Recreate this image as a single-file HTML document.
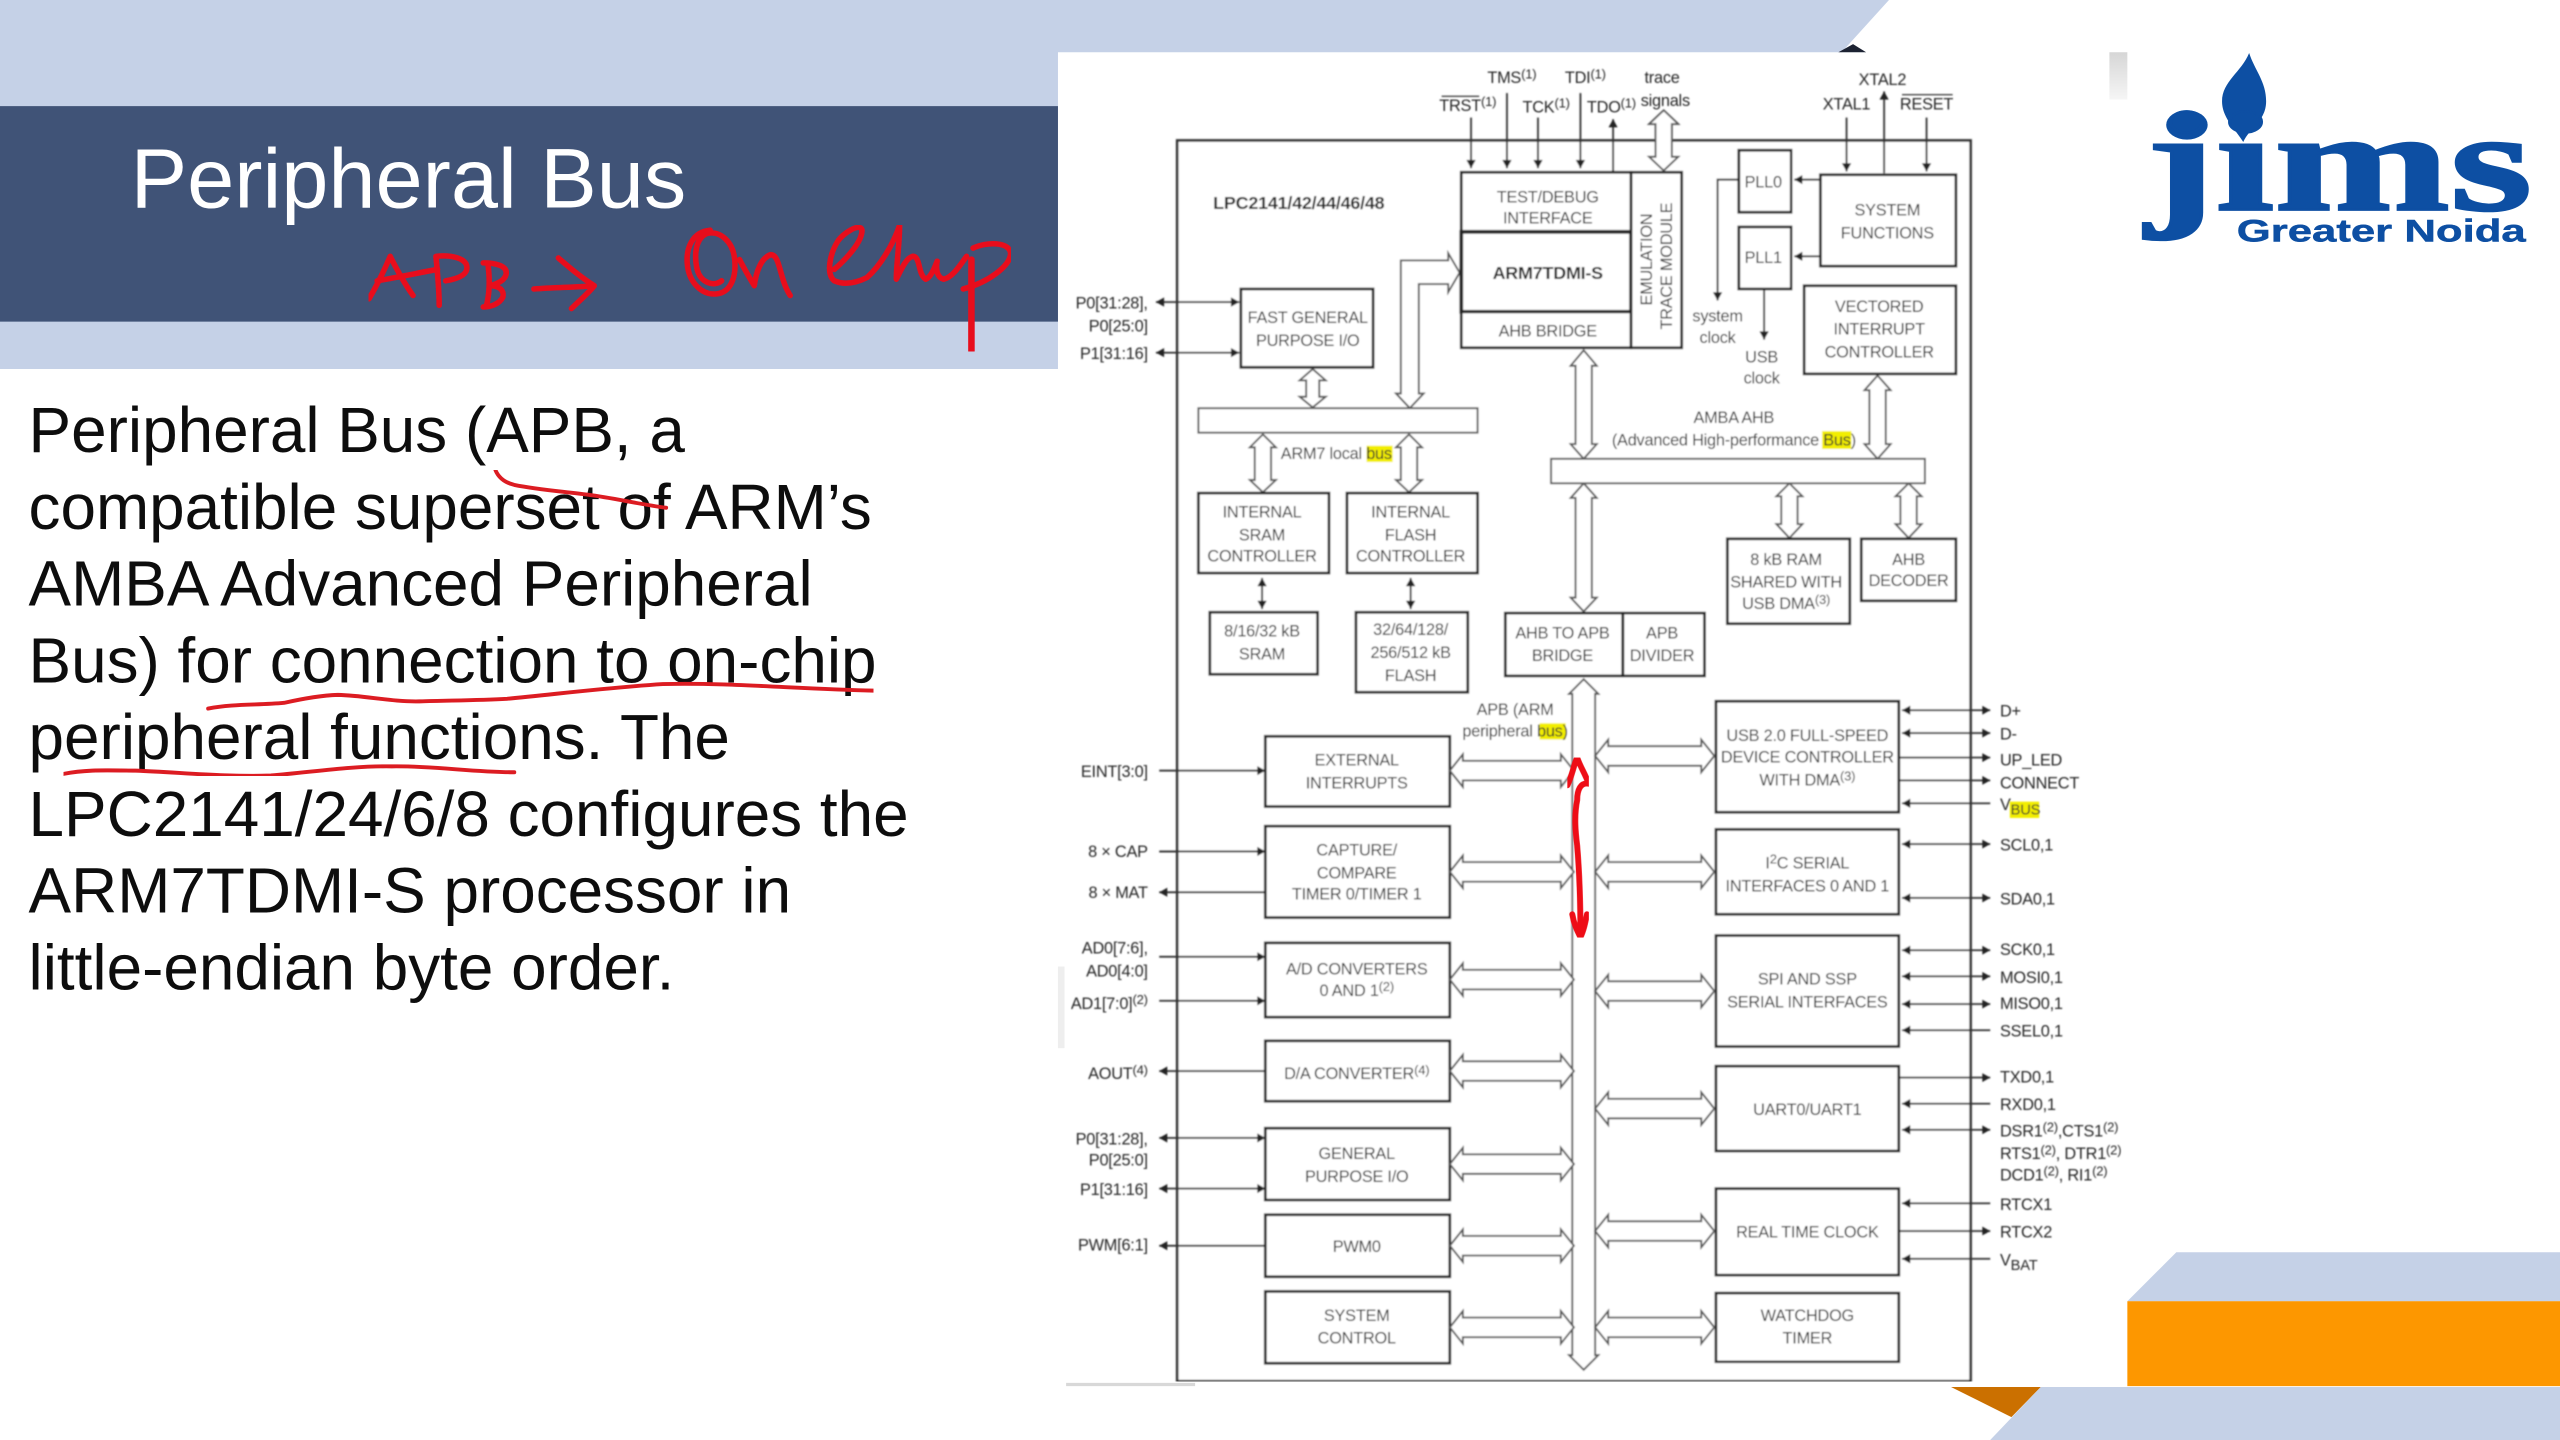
<!DOCTYPE html>
<html><head><meta charset="utf-8"><title>Peripheral Bus</title>
<style>html,body{margin:0;padding:0;background:#fff;width:2560px;height:1440px;overflow:hidden}svg{display:block}
.d{font-family:"Liberation Sans",sans-serif;font-size:10px;fill:#262626;text-anchor:middle;letter-spacing:-0.14px}
.l{text-anchor:end}.r{text-anchor:start}
.b{fill:#fff;stroke:#222;stroke-width:1.6}
.w{fill:#fff;stroke:#555;stroke-width:1.1}
.s{stroke:#333;stroke-width:1.1;fill:none}
.t{font-family:"Liberation Sans",sans-serif;font-size:39.1px;fill:#0c0c0c}
.h{fill:none;stroke:#e8101c;stroke-width:3.4;stroke-linecap:round;stroke-linejoin:round}
.u{fill:none;stroke:#dc1a22;stroke-width:2.4;stroke-linecap:round;stroke-linejoin:round}
</style></head><body>
<svg xmlns="http://www.w3.org/2000/svg" width="2560" height="1440" viewBox="0 0 1568 882">
<defs>
<filter id="bl" x="0" y="0" width="1" height="1"><feGaussianBlur stdDeviation="0.42"/></filter>
<filter id="bs" x="0" y="0" width="1" height="1"><feGaussianBlur stdDeviation="0.22"/></filter>
<linearGradient id="gr" x1="0" y1="0" x2="0" y2="1"><stop offset="0" stop-color="#d6d6d6"/><stop offset="1" stop-color="#f6f6f6"/></linearGradient>
<marker id="e" markerUnits="userSpaceOnUse" markerWidth="6" markerHeight="6" refX="5" refY="3" orient="auto-start-reverse"><path d="M0 0.2L5 3L0 5.8Z" fill="#222"/></marker>
<path id="hl" d="M0 0L8 -10V-6H68V-10L76 0L68 10V6H8V10Z" fill="#fff" stroke="#555" stroke-width="1.1"/>
<path id="hr" d="M0 0L8 -10V-6H65V-10L73 0L65 10V6H8V10Z" fill="#fff" stroke="#555" stroke-width="1.1"/>
</defs>

<!-- slide background -->
<g filter="url(#bs)">
<path d="M0 0H1157L1128 32H648V226H0Z" fill="#c5d1e7"/>
<rect x="0" y="65" width="648" height="132" fill="#3f5277"/>
<path d="M1126 32L1135 27L1143 32Z" fill="#1d2233"/>
<text x="80" y="127" font-family="Liberation Sans" font-size="51.900" fill="#fff">Peripheral Bus</text>
<g class="t">
<text x="17.500" y="277">Peripheral Bus (APB, a</text>
<text x="17.500" y="324">compatible superset of ARM’s</text>
<text x="17.500" y="371">AMBA Advanced Peripheral</text>
<text x="17.500" y="418">Bus) for connection to on-chip</text>
<text x="17.500" y="465">peripheral functions. The</text>
<text x="17.500" y="512">LPC2141/24/6/8 configures the</text>
<text x="17.500" y="559">ARM7TDMI-S processor in</text>
<text x="17.500" y="606">little-endian byte order.</text>
</g>
<!-- lower right decoration -->
<path d="M1333 767H1568V797H1303Z" fill="#c5d1e7"/>
<rect x="1303" y="797" width="265" height="52" fill="#fd9700"/>
<path d="M1195 849.500H1250L1232 868Z" fill="#cb7000"/>
<path d="M1250 849.500H1568V882H1219Z" fill="#c5d1e7"/>
<!-- logo -->
<rect x="1292" y="32" width="11" height="29" fill="url(#gr)"/>
<path d="M1377.600 32.500C1381 43 1388 50 1388 62C1388 74 1378 78 1374 87C1369 79 1361 72 1361 62C1361 50 1373 44 1377.600 32.500Z" fill="#0a4fa3"/>
<ellipse cx="1339.500" cy="76.500" rx="12.700" ry="9" fill="#0a4fa3"/>
<text x="1314" y="128.500" font-family="Liberation Serif" font-weight="bold" font-size="87" fill="#0a4fa3" stroke="#0a4fa3" stroke-width="1.400" textLength="237" lengthAdjust="spacingAndGlyphs">jims</text>
<text x="1370" y="148" font-family="Liberation Sans" font-weight="bold" font-size="19.500" fill="#0a4fa3" stroke="#0a4fa3" stroke-width="0.300" textLength="177" lengthAdjust="spacingAndGlyphs">Greater Noida</text>
<!-- faint edges -->
<rect x="653" y="847" width="79" height="2" fill="#d8d8d8"/>
<rect x="648" y="592" width="4" height="50" fill="#eeeeee"/>
</g>

<!-- diagram -->
<g filter="url(#bl)">
<rect x="721" y="86" width="486" height="760" fill="#fff" stroke="#333" stroke-width="1.6"/>

<!-- top signals -->
<g class="s">
<path d="M901 72V103" marker-end="url(#e)"/><path d="M923 57V103" marker-end="url(#e)"/>
<path d="M942 72V103" marker-end="url(#e)"/><path d="M968 57V103" marker-end="url(#e)"/>
<path d="M988 105V73" marker-end="url(#e)"/>
<path d="M1131 72V105" marker-end="url(#e)"/><path d="M1154 106V56" marker-end="url(#e)"/><path d="M1180 72V105" marker-end="url(#e)"/>
<path d="M1115 110H1099" marker-end="url(#e)"/><path d="M1115 157H1099" marker-end="url(#e)"/>
<path d="M1065 110H1052V184" marker-end="url(#e)"/><path d="M1080.500 177V208" marker-end="url(#e)"/>
<path d="M708 185H759" marker-start="url(#e)" marker-end="url(#e)"/><path d="M708 216H759" marker-start="url(#e)" marker-end="url(#e)"/>
<path d="M773 354V373" marker-start="url(#e)" marker-end="url(#e)"/><path d="M864 354V373" marker-start="url(#e)" marker-end="url(#e)"/>
<!-- left IO -->
<path d="M710 472H775" marker-end="url(#e)"/><path d="M710 521.500H775" marker-end="url(#e)"/>
<path d="M775 546.500H710" marker-end="url(#e)"/><path d="M710 586H775" marker-end="url(#e)"/>
<path d="M710 613H775" marker-end="url(#e)"/><path d="M775 656H710" marker-end="url(#e)"/>
<path d="M710 697H775" marker-start="url(#e)" marker-end="url(#e)"/><path d="M710 728H775" marker-start="url(#e)" marker-end="url(#e)"/>
<path d="M775 763H710" marker-end="url(#e)"/>
<!-- right IO -->
<path d="M1165 435H1219" marker-start="url(#e)" marker-end="url(#e)"/><path d="M1165 449H1219" marker-start="url(#e)" marker-end="url(#e)"/>
<path d="M1163 464H1219" marker-end="url(#e)"/><path d="M1163 478H1219" marker-end="url(#e)"/>
<path d="M1219 492H1165" marker-end="url(#e)"/>
<path d="M1165 517H1219" marker-start="url(#e)" marker-end="url(#e)"/><path d="M1165 550H1219" marker-start="url(#e)" marker-end="url(#e)"/>
<path d="M1165 582H1219" marker-start="url(#e)" marker-end="url(#e)"/><path d="M1165 598H1219" marker-start="url(#e)" marker-end="url(#e)"/>
<path d="M1165 615H1219" marker-start="url(#e)" marker-end="url(#e)"/><path d="M1219 631H1165" marker-end="url(#e)"/>
<path d="M1163 660H1219" marker-end="url(#e)"/><path d="M1219 676H1165" marker-end="url(#e)"/>
<path d="M1165 692H1219" marker-start="url(#e)" marker-end="url(#e)"/>
<path d="M1219 737H1165" marker-end="url(#e)"/><path d="M1163 754H1219" marker-end="url(#e)"/><path d="M1219 771H1165" marker-end="url(#e)"/>
</g>

<!-- fat vertical arrows -->
<g class="w">
<path d="M1019 67.500L1028 76H1024V96H1028L1019 104.500L1010 96H1014V76H1010Z"/>
<path d="M804 226L812 233H808V243H812L804 249.500L796 243H800V233H796Z"/>
<path d="M970 214.500L978 224H975V272H978L970 281L962 272H965V224H962Z"/>
<path d="M970 296L978 305H975V366H978L970 374.500L962 366H965V305H962Z"/>
<path d="M1150 230L1158 239H1155V272H1158L1150 281L1142 272H1145V239H1142Z"/>
<path d="M1096 296L1104 304H1101V321H1104L1096 329.500L1088 321H1091V304H1088Z"/>
<path d="M1169 296L1177 304H1174V321H1177L1169 329.500L1161 321H1164V304H1161Z"/>
<path d="M773.500 266L781.500 274H778.500V294H781.500L773.500 301.500L765.500 294H768.500V274H765.500Z"/>
<path d="M863 266L871 274H868V294H871L863 301.500L855 294H858V274H855Z"/>
<path d="M863.500 250L855 241H858V159.500H887V155L894 167L887 179V174H869V241H872Z"/>
<path d="M970 416L979 425H977V830H979L970 839L961 830H963V425H961Z"/>
</g>

<!-- bars -->
<rect x="734" y="250" width="171" height="15" class="w"/>
<rect x="950" y="281" width="229" height="15" class="w"/>

<!-- boxes -->
<g class="b">
<rect x="895" y="105.500" width="104" height="36.500"/><rect x="895" y="142" width="104" height="49" stroke-width="2.200"/>
<rect x="895" y="191" width="104" height="22"/><rect x="999" y="105.500" width="31" height="107.500"/>
<rect x="1065" y="92" width="32" height="38"/><rect x="1065" y="139" width="32" height="38"/>
<rect x="1115" y="107" width="83" height="56"/><rect x="1105" y="175" width="93" height="54"/>
<rect x="760" y="177" width="81" height="48"/>
<rect x="734" y="302" width="80" height="49"/><rect x="825" y="302" width="80" height="49"/>
<rect x="741" y="375" width="66" height="38"/><rect x="830.500" y="375" width="68.500" height="49"/>
<rect x="1058" y="330" width="75" height="52"/><rect x="1140" y="330" width="58" height="38"/>
<rect x="922" y="375.500" width="72" height="38.500"/><rect x="994" y="375.500" width="50" height="38.500"/>
<rect x="775" y="451" width="113" height="43"/><rect x="775" y="506" width="113" height="56"/>
<rect x="775" y="577.500" width="113" height="45.500"/><rect x="775" y="637.500" width="113" height="37"/>
<rect x="775" y="691" width="113" height="44"/><rect x="775" y="744" width="113" height="38"/>
<rect x="775" y="791" width="113" height="44"/>
<rect x="1051" y="429.500" width="112" height="68"/><rect x="1051" y="508" width="112" height="52"/>
<rect x="1051" y="573" width="112" height="68"/><rect x="1051" y="653" width="112" height="52"/>
<rect x="1051" y="728" width="112" height="53"/><rect x="1051" y="792" width="112" height="42"/>
</g>

<!-- fat horizontal arrows -->
<use href="#hl" x="888" y="472"/><use href="#hl" x="888" y="534"/><use href="#hl" x="888" y="600"/>
<use href="#hl" x="888" y="656"/><use href="#hl" x="888" y="713"/><use href="#hl" x="888" y="763"/><use href="#hl" x="888" y="813"/>
<use href="#hr" x="977" y="463"/><use href="#hr" x="977" y="534"/><use href="#hr" x="977" y="607"/>
<use href="#hr" x="977" y="679"/><use href="#hr" x="977" y="754"/><use href="#hr" x="977" y="813"/>

<!-- highlights -->
<g fill="#f2ee00">
<rect x="837" y="273" width="16" height="10"/><rect x="1116" y="264" width="18" height="11"/>
<rect x="943" y="443" width="16" height="10"/><rect x="1231" y="491" width="18" height="10"/>
</g>

<!-- labels -->
<g class="d">
<text x="926" y="51">TMS<tspan font-size="8" dy="-3">(1)</tspan></text>
<text x="971" y="51">TDI<tspan font-size="8" dy="-3">(1)</tspan></text>
<text x="1018" y="51">trace</text><text x="1020" y="65">signals</text>
<text x="899" y="68">TRST<tspan font-size="8" dy="-3">(1)</tspan></text>
<path d="M883 59H906" stroke="#444" stroke-width="0.8"/>
<text x="947" y="69">TCK<tspan font-size="8" dy="-3">(1)</tspan></text>
<text x="987" y="69">TDO<tspan font-size="8" dy="-3">(1)</tspan></text>
<text x="1153" y="52">XTAL2</text><text x="1131" y="67">XTAL1</text><text x="1180" y="67">RESET</text>
<path d="M1165 58H1196" stroke="#444" stroke-width="0.8"/>
<text x="795.500" y="128" font-weight="bold" font-size="11">LPC2141/42/44/46/48</text>
<text x="948" y="124">TEST/DEBUG</text><text x="948" y="137">INTERFACE</text>
<text x="948" y="171" font-weight="bold" font-size="11">ARM7TDMI-S</text>
<text x="948" y="206">AHB BRIDGE</text>
<text transform="translate(1012,159) rotate(-90)">EMULATION</text>
<text transform="translate(1024,163) rotate(-90)">TRACE MODULE</text>
<text x="1080" y="115">PLL0</text><text x="1080" y="161">PLL1</text>
<text x="1156" y="132">SYSTEM</text><text x="1156" y="146">FUNCTIONS</text>
<text x="1151" y="191">VECTORED</text><text x="1151" y="205">INTERRUPT</text><text x="1151" y="219">CONTROLLER</text>
<text x="1052" y="197">system</text><text x="1052" y="210">clock</text>
<text x="1079" y="222">USB</text><text x="1079" y="235">clock</text>
<text x="801" y="198">FAST GENERAL</text><text x="801" y="212">PURPOSE I/O</text>
<text x="818.500" y="281">ARM7 local bus</text>
<text x="1062" y="259">AMBA AHB</text><text x="1062" y="273">(Advanced High-performance Bus)</text>
<text x="773" y="317">INTERNAL</text><text x="773" y="331">SRAM</text><text x="773" y="344">CONTROLLER</text>
<text x="864" y="317">INTERNAL</text><text x="864" y="331">FLASH</text><text x="864" y="344">CONTROLLER</text>
<text x="773" y="390">8/16/32  kB</text><text x="773" y="404">SRAM</text>
<text x="864" y="389">32/64/128/</text><text x="864" y="403">256/512 kB</text><text x="864" y="417">FLASH</text>
<text x="957" y="391">AHB TO APB</text><text x="957" y="405">BRIDGE</text>
<text x="1018" y="391">APB</text><text x="1018" y="405">DIVIDER</text>
<text x="1094" y="346">8 kB RAM</text><text x="1094" y="360">SHARED WITH</text><text x="1094" y="373">USB DMA<tspan font-size="8" dy="-3">(3)</tspan></text>
<text x="1169" y="346">AHB</text><text x="1169" y="359">DECODER</text>
<text x="928" y="438">APB (ARM</text><text x="928" y="451">peripheral bus)</text>
<text x="831" y="469">EXTERNAL</text><text x="831" y="483">INTERRUPTS</text>
<text x="831" y="524">CAPTURE/</text><text x="831" y="538">COMPARE</text><text x="831" y="551">TIMER 0/TIMER 1</text>
<text x="831" y="597">A/D CONVERTERS</text><text x="831" y="610">0 AND 1<tspan font-size="8" dy="-3">(2)</tspan></text>
<text x="831" y="661">D/A CONVERTER<tspan font-size="8" dy="-3">(4)</tspan></text>
<text x="831" y="710">GENERAL</text><text x="831" y="724">PURPOSE I/O</text>
<text x="831" y="767">PWM0</text>
<text x="831" y="809">SYSTEM</text><text x="831" y="823">CONTROL</text>
<text x="1107" y="454">USB 2.0 FULL-SPEED</text><text x="1107" y="467">DEVICE CONTROLLER</text><text x="1107" y="481">WITH DMA<tspan font-size="8" dy="-3">(3)</tspan></text>
<text x="1107" y="532">I<tspan font-size="8" dy="-3">2</tspan><tspan dy="3">C SERIAL</tspan></text><text x="1107" y="546">INTERFACES 0 AND 1</text>
<text x="1107" y="603">SPI AND SSP</text><text x="1107" y="617">SERIAL INTERFACES</text>
<text x="1107" y="683">UART0/UART1</text>
<text x="1107" y="758">REAL TIME CLOCK</text>
<text x="1107" y="809">WATCHDOG</text><text x="1107" y="823">TIMER</text>

<text class="d l" x="703" y="189">P0[31:28],</text><text class="d l" x="703" y="203">P0[25:0]</text><text class="d l" x="703" y="220">P1[31:16]</text>
<text class="d l" x="703" y="476">EINT[3:0]</text><text class="d l" x="703" y="525">8 × CAP</text><text class="d l" x="703" y="550">8 × MAT</text>
<text class="d l" x="703" y="584">AD0[7:6],</text><text class="d l" x="703" y="598">AD0[4:0]</text><text class="d l" x="703" y="618">AD1[7:0]<tspan font-size="8" dy="-3">(2)</tspan></text>
<text class="d l" x="703" y="661">AOUT<tspan font-size="8" dy="-3">(4)</tspan></text>
<text class="d l" x="703" y="701">P0[31:28],</text><text class="d l" x="703" y="714">P0[25:0]</text><text class="d l" x="703" y="732">P1[31:16]</text>
<text class="d l" x="703" y="766">PWM[6:1]</text>

<text class="d r" x="1225" y="439">D+</text><text class="d r" x="1225" y="453">D-</text><text class="d r" x="1225" y="469">UP_LED</text>
<text class="d r" x="1225" y="483">CONNECT</text><text class="d r" x="1225" y="496">V<tspan font-size="9" dy="3">BUS</tspan></text>
<text class="d r" x="1225" y="521">SCL0,1</text><text class="d r" x="1225" y="554">SDA0,1</text><text class="d r" x="1225" y="585">SCK0,1</text>
<text class="d r" x="1225" y="602">MOSI0,1</text><text class="d r" x="1225" y="618">MISO0,1</text><text class="d r" x="1225" y="635">SSEL0,1</text>
<text class="d r" x="1225" y="663">TXD0,1</text><text class="d r" x="1225" y="680">RXD0,1</text>
<text class="d r" x="1225" y="696">DSR1<tspan font-size="8" dy="-3">(2)</tspan><tspan dy="3">,CTS1</tspan><tspan font-size="8" dy="-3">(2)</tspan></text>
<text class="d r" x="1225" y="710">RTS1<tspan font-size="8" dy="-3">(2)</tspan><tspan dy="3">, DTR1</tspan><tspan font-size="8" dy="-3">(2)</tspan></text>
<text class="d r" x="1225" y="723">DCD1<tspan font-size="8" dy="-3">(2)</tspan><tspan dy="3">, RI1</tspan><tspan font-size="8" dy="-3">(2)</tspan></text>
<text class="d r" x="1225" y="741">RTCX1</text><text class="d r" x="1225" y="758">RTCX2</text>
<text class="d r" x="1225" y="775">V<tspan font-size="9" dy="3">BAT</tspan></text>
</g>
</g>

<!-- red ink -->
<g class="h" filter="url(#bs)">
<path d="M226 183C232 173 236 164 239 157C243 165 248 174 253 181"/>
<path d="M231 172C243 170 257 167 268 165"/>
<path d="M269 187C269 177 268 167 267 157C276 156 286 158 286 164C286 169 279 171 273 172"/>
<path d="M296 161C304 161 311 163 310 168C309 172 304 174 300 175C306 175 309 178 308 182C306 186 301 188 296 188"/>
<path d="M299 163C300 171 300 179 298 187"/>
<path d="M327 177C340 176 352 176 364 175M342 158C349 164 356 170 364 175C360 180 355 184 350 189"/>
<path d="M435 141C424 142 420 152 421 162C422 173 430 181 439 180C448 179 451 169 450 159C449 148 441 141 433 143C426 146 425 156 427 165C429 173 437 176 442 172"/>
<path d="M453 159C456 165 459 170 462 175C463 167 466 158 472 156C478 156 477 170 484 181"/>
<path d="M511 165C519 158 528 148 528 141C527 136 516 143 513 148C508 156 506 168 511 172C518 175 525 173 531 170C539 163 547 150 551 138C551 150 549 161 549 171C552 165 555 158 559 157C564 157 562 168 567 171C570 170 572 165 574 160C573 165 574 170 578 171C583 170 587 164 592 157"/>
<path d="M595 159C595 178 595 197 595 215" stroke-width="4"/>
<path d="M596 152C604 148 618 148 619 155C619 163 605 173 590 177"/>
</g>
<g class="u" filter="url(#bs)">
<path d="M303.500 288C306 294 311 296 315 297C330 300 345 301 360 303C376 305 392 309 408 311"/>
<path d="M127.500 434C143 431 158 432 174 430.500C185 428 196 426 207 425.600C224 426 240 430 257 429.600C275 429 292 429 310.600 428C342 425 374 421 406 419C447 418 488 422 535 423"/>
<path d="M39 474C54 471 68 472 83 472C110 473 138 476 166 475C191 473 215 469 240 469.400C265 469 290 473 315 473"/>
</g>
<g filter="url(#bs)" fill="none" stroke="#ee0a14" stroke-width="3.600" stroke-linecap="round" stroke-linejoin="round">
<path d="M960 481C963 475 964 468 966 464C968 470 971 474 973 480C968 479 966 484 966 490C964 500 965 510 966 518C967 530 968 545 968 572"/>
<path d="M963 560C964 566 966 570 968 574C970 570 971 565 972 560"/>
</g>
</svg>
</body></html>
